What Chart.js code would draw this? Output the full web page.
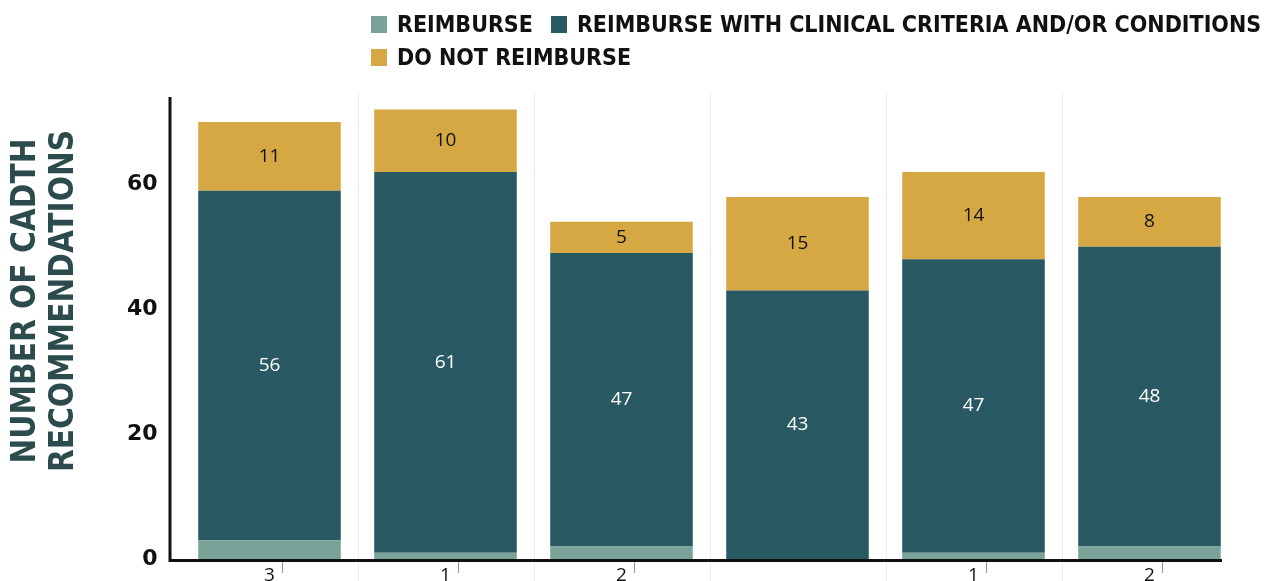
<!DOCTYPE html>
<html>
<head>
<meta charset="utf-8">
<script src="https://cdn.jsdelivr.net/npm/chart.js@4.4.1/dist/chart.umd.min.js"></script>
<style>
  html, body { margin: 0; padding: 0; background: #fff; }
  #wrap { position: relative; width: 1275px; height: 581px; overflow: hidden; }
  #legend {
    position: absolute; left: 371px; top: 8px;
    font-family: "DejaVu Sans Condensed", "DejaVu Sans", sans-serif;
    font-weight: bold; font-size: 23px; color: #111; line-height: 33px;
  }
  #legend .row { display: flex; white-space: nowrap; }
  #legend .item { display: flex; align-items: center; margin-right: 18px; }
  #legend .box { width: 16px; height: 17px; margin-right: 10px; }
</style>
</head>
<body>
<div id="wrap">
  <canvas id="chart1" width="1275" height="581"></canvas>
  <div id="legend"></div>
</div>
<script>
categories = ["", "", "", "", "", ""]
reimburse = [3, 1, 2, 0, 1, 2]
withConditions = [56, 61, 47, 43, 47, 48]
doNotReimburse = [11, 10, 5, 15, 14, 8]
yTicks = [0, 20, 40, 60]
yTitle = ['NUMBER OF CADTH', 'RECOMMENDATIONS']

seriesNames = ["REIMBURSE", "REIMBURSE WITH CLINICAL CRITERIA AND/OR CONDITIONS", "DO NOT REIMBURSE"]
colors = ["#79a399", "#295963", "#d5a843"]

// legend in two rows like the printed version
legendRows = [[0, 1], [2]]
legend.innerHTML = legendRows.map(r => '<div class="row">' + r.map(i =>
  '<div class="item"><div class="box" style="background:' + colors[i] + '"></div>' + seriesNames[i] + '</div>'
).join('') + '</div>').join('')

// separators between categories + the black axis lines (axes are drawn a bit off the plot box)
axesLines = {
  id: 'axesLines',
  beforeDatasetsDraw(chart) {
    var c = chart.ctx, x = chart.scales.x, a = chart.chartArea
    c.save()
    c.strokeStyle = '#ececec'
    c.lineWidth = 1
    for (var i = 0; i < categories.length - 1; i++) {
      var gx = Math.round((x.getPixelForTick(i) + x.getPixelForTick(i + 1)) / 2) + 0.5
      c.beginPath()
      c.moveTo(gx, a.top - 4)
      c.lineTo(gx, chart.height)
      c.stroke()
    }
    c.restore()
  },
  afterDatasetsDraw(chart) {
    var c = chart.ctx, a = chart.chartArea
    c.save()
    c.strokeStyle = '#111'
    c.lineWidth = 3
    c.beginPath()
    c.moveTo(170, a.top)
    c.lineTo(170, a.bottom + 1.5)
    c.lineTo(1222, a.bottom + 1.5)
    c.stroke()
    // axis title, two rotated lines
    c.fillStyle = '#2b4b4c'
    c.font = 'bold 33px "DejaVu Sans Condensed"'
    c.textAlign = 'center'
    c.textBaseline = 'middle'
    yTitle.forEach((t, i) => {
      c.save()
      c.translate(26 + i * 38, 301)
      c.rotate(-Math.PI / 2)
      c.fillText(t, 0, 0)
      c.restore()
    })
    c.restore()
  }
}

// value labels: centered in the segments, the reimburse ones hang under the axis
valueLabels = {
  id: 'valueLabels',
  afterDatasetsDraw(chart) {
    var ctx = chart.ctx
    var bottom = chart.chartArea.bottom
    ctx.save()
    ctx.font = '19px "Open Sans"'
    ctx.textAlign = 'center'
    ctx.textBaseline = 'middle'
    chart.data.datasets.forEach((ds, di) => {
      chart.getDatasetMeta(di).data.forEach((bar, i) => {
        var v = ds.data[i]
        if (!v) return
        if (di == 0) {
          ctx.strokeStyle = '#79a399'
          ctx.lineWidth = 1
          ctx.beginPath()
          ctx.moveTo(Math.round(bar.x) + 12.5, bottom + 3)
          ctx.lineTo(Math.round(bar.x) + 12.5, bottom + 14)
          ctx.stroke()
          ctx.fillStyle = '#111'
          ctx.fillText(v, bar.x, bottom + 17)
        } else {
          ctx.fillStyle = di == 1 ? '#fff' : '#111'
          ctx.fillText(v, bar.x, (bar.y + bar.base) / 2)
        }
      })
    })
    ctx.restore()
  }
}

var ctx = document.getElementById('chart1').getContext('2d')
var myChart = new Chart(ctx, {
  type: 'bar',
  data: {
    labels: categories,
    datasets: [
      { label: seriesNames[0], data: reimburse, backgroundColor: colors[0] },
      { label: seriesNames[1], data: withConditions, backgroundColor: colors[1] },
      { label: seriesNames[2], data: doNotReimburse, backgroundColor: colors[2] }
    ]
  },
  options: {
    responsive: false,
    animation: false,
    categoryPercentage: 0.9,
    barPercentage: 0.9,
    layout: { padding: { top: 97, right: 37.5, bottom: 22, left: 0 } },
    plugins: { legend: { display: false }, tooltip: { enabled: false } },
    scales: {
      x: {
        display: false,
        stacked: true
      },
      y: {
        stacked: true,
        min: 0, max: 74,
        afterBuildTicks: s => { s.ticks = yTicks.map(v => ({ value: v })) },
        afterFit: s => { s.width = 181.5; s.paddingTop = 0; s.paddingBottom = 0 },
        grid: { display: false, drawTicks: false },
        border: { display: false },
        ticks: { color: '#111', padding: 24, font: { family: 'DejaVu Sans', weight: 'bold', size: 22 } }
      }
    }
  },
  plugins: [axesLines, valueLabels]
})
</script>
</body>
</html>
